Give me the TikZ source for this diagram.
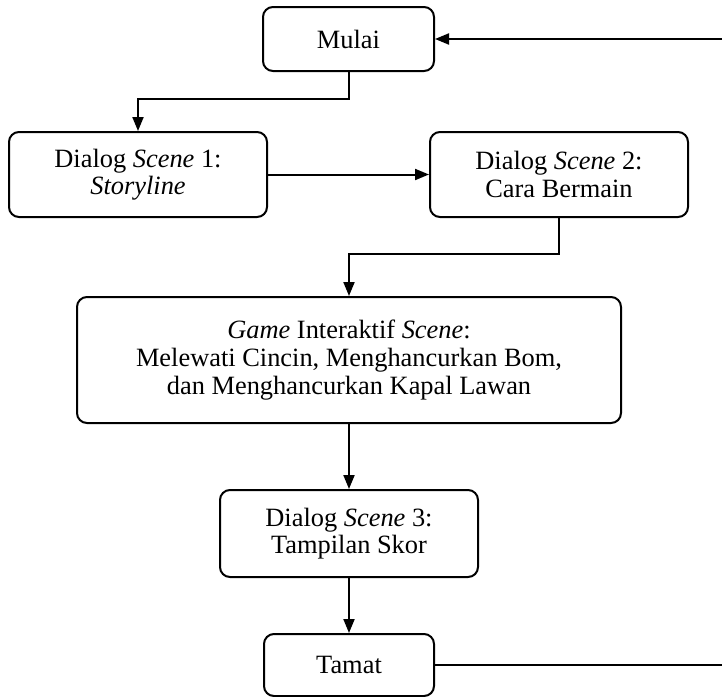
\documentclass[tikz,border=0pt]{standalone}
\usepackage{fontspec}
\setmainfont{Liberation Serif}
\usepackage{tikz}
\usetikzlibrary{positioning, arrows.meta}
\tikzstyle{flowchart} = [x = .5pt, y = -.5pt]
\tikzstyle{stepBox} = [draw=black, line width=1pt, rounded corners = 5pt, align=center, inner sep=0pt, font=\fontsize{13.2}{13.8}\selectfont]
\tikzstyle{flowLine} = [draw=black, line width=1pt]
\tikzstyle{flowArrow} = [flowLine, -{Triangle[length=7pt, width=5.5pt]}]
\newcommand{\stepNode}[6]{\node [stepBox, minimum width = #4*.5pt, minimum height = #5*.5pt] (#1) at (#2, #3) {#6};}

\begin{document}
\begin{tikzpicture}[flowchart]
          \useasboundingbox (0,0) rectangle (722,696);
          \clip (0,0) rectangle (722,696);

          \stepNode{mulai}{348.5}{39}{171}{64}{Mulai}
          \stepNode{sceneOne}{138}{174.5}{258}{85}{Dialog \textit{Scene} 1:\\\textit{Storyline}}
          \stepNode{sceneTwo}{559}{174.5}{258}{85}{Dialog \textit{Scene} 2:\\Cara Bermain}
          \stepNode{game}{349}{360}{544}{126}{\textit{Game} Interaktif \textit{Scene}:\\Melewati Cincin, Menghancurkan Bom,\\dan Menghancurkan Kapal Lawan}
          \stepNode{sceneThree}{349}{533.5}{258}{87}{Dialog \textit{Scene} 3:\\Tampilan Skor}
          \stepNode{tamat}{349}{665}{170}{62}{Tamat}

          \coordinate (rightRail) at (730,0);

          \draw [flowArrow] (mulai.south) -- ++(0,27) -| (sceneOne.north);
          \draw [flowArrow] (sceneOne.east) -- (sceneTwo.west);
          \draw [flowArrow] (sceneTwo.south) -- ++(0,36) -| (game.north);
          \draw [flowArrow] (game.south) -- (sceneThree.north);
          \draw [flowArrow] (sceneThree.south) -- (tamat.north);
          \draw [flowArrow] (tamat.east) -- (tamat.east -| rightRail) -- (mulai.east -| rightRail) -- (mulai.east);
        \end{tikzpicture}
\end{document}
